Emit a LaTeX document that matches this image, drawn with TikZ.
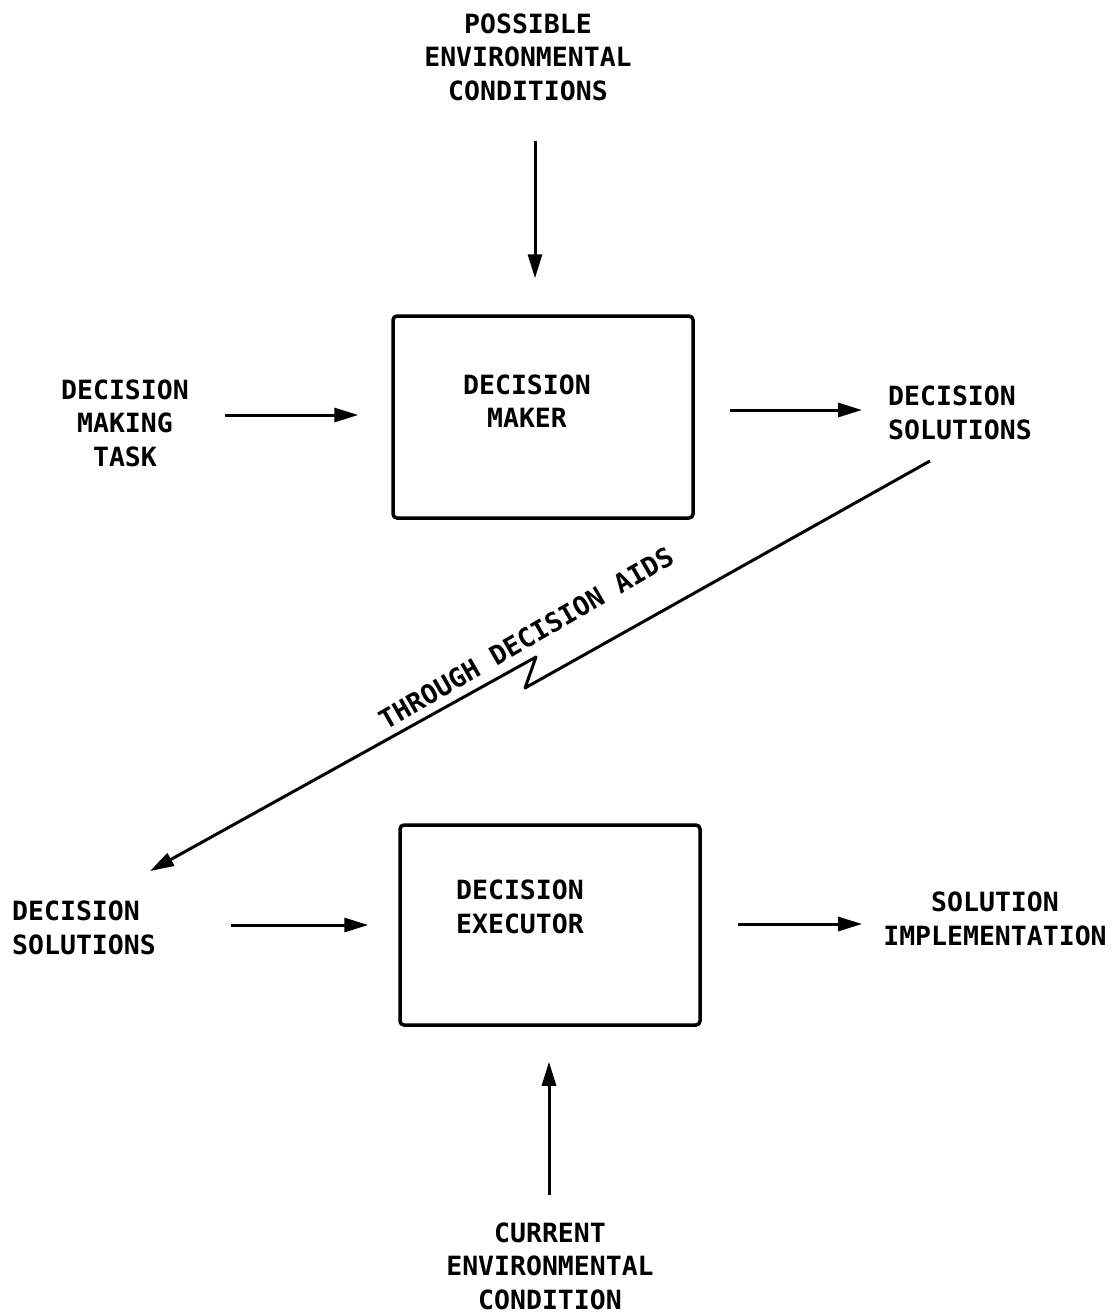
\documentclass[tikz,border=0pt]{standalone}
\usepackage{fontspec}
\setmainfont{DejaVu Sans Mono}
\usetikzlibrary{arrows.meta,calc}
\begin{document}
\begin{tikzpicture}[x=1pt,y=-1pt,
  txt/.style={inner sep=0pt,align=center,font=\fontsize{26.5}{33.5}\selectfont\bfseries},
  ltxt/.style={txt,align=left,anchor=west},
  blk/.style={draw,line width=3.5pt,rounded corners=4pt,inner sep=0pt},
  arr/.style={line width=3pt,-{Triangle[length=24pt,width=14pt]}}]
\useasboundingbox (0,0) rectangle (1115,1315);
% nodes
\node[txt] (pec) at (528,57) {POSSIBLE\\ENVIRONMENTAL\\CONDITIONS};
\node[blk,minimum width=300pt,minimum height=202pt] (dm) at (543,417) {};
\node[txt] (dmtxt) at (527,401) {DECISION\\MAKER};
\node[txt] (dmt) at (125,423) {DECISION\\MAKING\\TASK};
\node[ltxt] (ds1) at (888,413) {DECISION\\SOLUTIONS};
\node[txt,rotate=30] (aids) at (526,638) {THROUGH DECISION AIDS};
\node[ltxt] (ds2) at (12,928) {DECISION\\SOLUTIONS};
\node[blk,minimum width=300pt,minimum height=200pt] (de) at (550,925) {};
\node[txt] (detxt) at (520,907) {DECISION\\EXECUTOR};
\node[txt] (si) at (995,919) {SOLUTION\\IMPLEMENTATION};
\node[txt] (ced) at (550,1266) {CURRENT\\ENVIRONMENTAL\\CONDITION};
% connectors
\draw[arr] (pec.south -| 535,0) ++(0,40) -- ($(dm.north)+(-8,-36)$);
\draw[arr,shorten <=36pt,shorten >=33pt] (dmt.east |- 0,415) -- (dm.west |- 0,415);
\draw[arr,shorten <=35pt,shorten >=26pt] (dm.east |- 0,410) -- (ds1.west |- 0,410);
\coordinate (zzA) at (525,688);
\coordinate (zzB) at (536,657);
\draw[line width=3pt,line join=round,-{Triangle[length=24pt,width=14pt]}]
  ($(ds1.south west)+(42,21)$) -- (zzA) -- (zzB) -- ($(ds2.north west)+(138,-30)$);
\draw[arr,shorten <=75pt,shorten >=30pt] (ds2.east |- 0,925) -- (de.west |- 0,925);
\draw[arr,shorten <=36pt,shorten >=21pt] (de.east |- 0,924) -- (si.west |- 0,924);
\draw[arr] ($(ced.north -| 549,0)+(0,-27)$) -- ($(de.south -| 549,0)+(0,35)$);
\end{tikzpicture}
\end{document}
